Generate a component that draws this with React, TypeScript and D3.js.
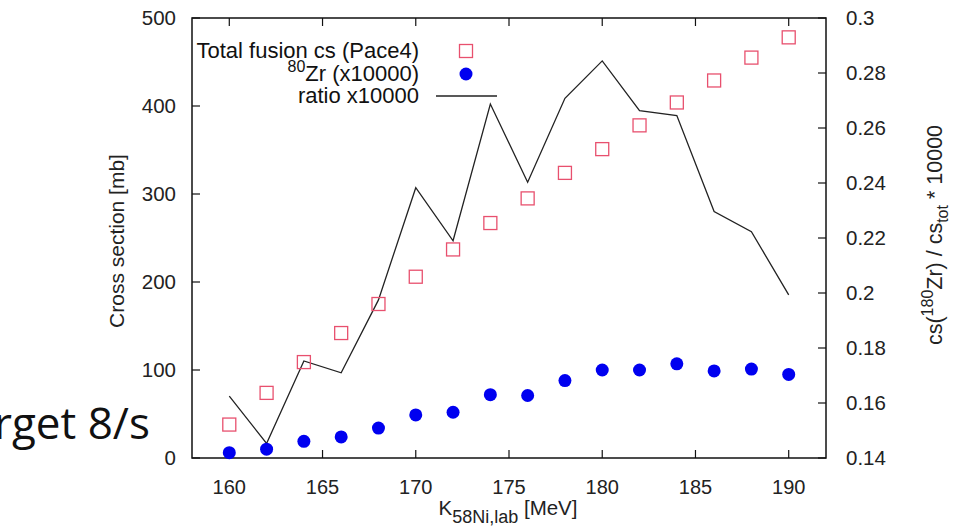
import React from "react";
import * as d3 from "d3";

const energies = [160, 162, 164, 166, 168, 170, 172, 174, 176, 178, 180, 182, 184, 186, 188, 190];
const totalFusion = [38, 74, 109, 142, 175, 206, 237, 267, 295, 324, 351, 378, 404, 429, 455, 478];
const zr80 = [6, 10, 19, 24, 34, 49, 52, 72, 71, 88, 100, 100, 107, 99, 101, 95];
const ratio = [0.1625, 0.1453, 0.1753, 0.171, 0.1975, 0.2383, 0.219, 0.2687, 0.2403, 0.2708, 0.2844, 0.2663, 0.2645, 0.2296, 0.2223, 0.1993];
const xTicks = [160, 165, 170, 175, 180, 185, 190];
const yLeftTicks = [0, 100, 200, 300, 400, 500];
const yRightTicks = [0.14, 0.16, 0.18, 0.2, 0.22, 0.24, 0.26, 0.28, 0.3];
const legendLabels = ["Total fusion cs (Pace4)", "Zr (x10000)", "ratio x10000"];

const W = 957, H = 528;
const L = 192, R = 826, T = 18, B = 458;
const SQ = "#e8506e";
const DOT = "#0000f0";
const FONT = "'Liberation Sans', Arial, Helvetica, sans-serif";

export default function App() {
  const x = d3.scaleLinear().domain([158, 192]).range([L, R]);
  const yL = d3.scaleLinear().domain([0, 500]).range([B, T]);
  const yR = d3.scaleLinear().domain([0.14, 0.3]).range([B, T]);
  const line = d3.line<number>().x((_, i) => x(energies[i])).y((d) => yR(d));
  const tk = 8;
  const sq = 13;
  const fmtR = (v: number) => String(+v.toFixed(2));
  return (
    <div style={{ position: "fixed", left: 0, top: 0, width: W, height: H, background: "#fff" }}>
      <svg width={W} height={H} style={{ display: "block" }} fontFamily={FONT}>
        <rect x={0} y={0} width={W} height={H} fill="#fff" />
        {/* slide text fragment */}
        <text x={-6} y={439} fontSize={44} fontFamily="'Open Sans', 'Noto Sans', sans-serif" fill="#111">rget 8/s</text>

        {/* frame */}
        <rect x={L} y={T} width={R - L} height={B - T} fill="none" stroke="#111" strokeWidth={1.5} />
        {xTicks.map((t) => (
          <g key={"x" + t}>
            <line x1={x(t)} x2={x(t)} y1={B} y2={B - tk} stroke="#111" strokeWidth={1.2} />
            <line x1={x(t)} x2={x(t)} y1={T} y2={T + tk} stroke="#111" strokeWidth={1.2} />
            <text x={x(t)} y={494} fontSize={20} textAnchor="middle" fill="#222">{t}</text>
          </g>
        ))}
        {yLeftTicks.map((t) => (
          <g key={"yl" + t}>
            <line x1={L} x2={L + tk} y1={yL(t)} y2={yL(t)} stroke="#111" strokeWidth={1.2} />
            <text x={176} y={yL(t)} dy="0.36em" fontSize={20.5} textAnchor="end" fill="#222">{t}</text>
          </g>
        ))}
        {yRightTicks.map((t) => (
          <g key={"yr" + t}>
            <line x1={R} x2={R - tk} y1={yR(t)} y2={yR(t)} stroke="#111" strokeWidth={1.2} />
            <text x={846} y={yR(t)} dy="0.36em" fontSize={20.5} textAnchor="start" fill="#222">{fmtR(t)}</text>
          </g>
        ))}

        {/* axis titles */}
        <text transform={`translate(124,241) rotate(-90)`} fontSize={21} textAnchor="middle" fill="#222">Cross section [mb]</text>
        <text transform={`translate(942,235) rotate(-90)`} fontSize={21.5} textAnchor="middle" fill="#222">
          cs(<tspan fontSize={16} dy={-9}>180</tspan><tspan dy={9}>Zr) / cs</tspan><tspan fontSize={16} dy={6}>tot</tspan><tspan dy={-6}> * 10000</tspan>
        </text>
        <text x={508} y={515} fontSize={20.5} textAnchor="middle" fill="#222">
          K<tspan fontSize={18} dy={8}>58Ni,lab</tspan><tspan dy={-8}> [MeV]</tspan>
        </text>

        {/* ratio line */}
        <path d={line(ratio) || ""} fill="none" stroke="#222" strokeWidth={1.3} />

        {/* total fusion squares */}
        {totalFusion.map((v, i) => (
          <rect key={"s" + i} x={x(energies[i]) - sq / 2} y={yL(v) - sq / 2} width={sq} height={sq} fill="none" stroke={SQ} strokeWidth={1.3} />
        ))}
        {/* Zr dots */}
        {zr80.map((v, i) => (
          <circle key={"c" + i} cx={x(energies[i])} cy={yL(v)} r={6.5} fill={DOT} />
        ))}

        {/* legend */}
        <text x={419} y={58} fontSize={22} textAnchor="end" fill="#111">{legendLabels[0]}</text>
        <text x={419} y={81} fontSize={22} textAnchor="end" fill="#111">
          <tspan fontSize={16} dy={-9}>80</tspan><tspan dy={9}>{legendLabels[1]}</tspan>
        </text>
        <text x={419} y={103} fontSize={22} textAnchor="end" fill="#111">{legendLabels[2]}</text>
        <rect x={466 - sq / 2} y={51 - sq / 2} width={sq} height={sq} fill="none" stroke={SQ} strokeWidth={1.3} />
        <circle cx={466} cy={74} r={6.5} fill={DOT} />
        <line x1={436} x2={497} y1={96} y2={96} stroke="#222" strokeWidth={1.3} />
      </svg>
    </div>
  );
}
